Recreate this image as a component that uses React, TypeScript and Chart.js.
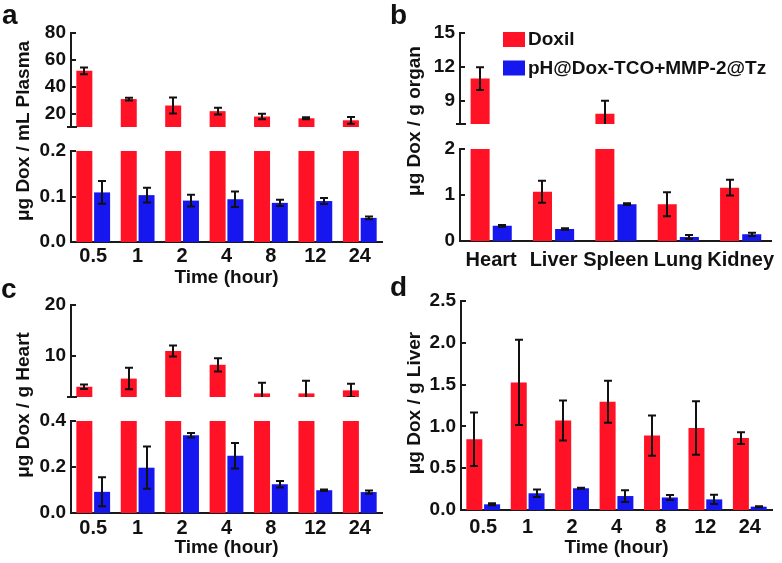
import React, { useEffect, useRef } from 'react';
import { Chart, registerables } from 'chart.js';
Chart.register(...registerables);

const FONT = '"Liberation Sans", Arial, Helvetica, sans-serif';
const RED = 'rgb(255,18,38)';
const BLUE = 'rgb(22,22,238)';
const INK = '#111';
const SERIES = ['Doxil', 'pH@Dox-TCO+MMP-2@Tz'];

// categories
const timeLabels = ['0.5', '1', '2', '4', '8', '12', '24'];
const organLabels = ['Heart', 'Liver', 'Spleen', 'Lung', 'Kidney'];

// (a) plasma
const plasmaDoxil = [51.8, 30.8, 26, 21.8, 17.8, 16.5, 15];
const plasmaDoxilErr = [2.5, 1, 6, 2.5, 2, 0.8, 2.5];
const plasmaPH = [0.109, 0.103, 0.091, 0.094, 0.086, 0.09, 0.053];
const plasmaPHErr = [0.025, 0.016, 0.013, 0.017, 0.007, 0.0065, 0.003];

// (b) organs
const organDoxil = [11.0, 1.07, 7.9, 0.8, 1.16];
const organDoxilErr = [1.0, 0.24, 1.15, 0.26, 0.17];
const organPH = [0.33, 0.26, 0.8, 0.087, 0.145];
const organPHErr = [0.02, 0.015, 0.02, 0.045, 0.035];

// (c) heart
const heartDoxil = [4.0, 5.6, 11.0, 8.3, 2.7, 2.7, 3.3];
const heartDoxilErr = [0.45, 2.1, 1.1, 1.3, 2.1, 2.5, 1.3];
const heartPH = [0.092, 0.197, 0.338, 0.249, 0.125, 0.099, 0.091];
const heartPHErr = [0.063, 0.092, 0.01, 0.055, 0.014, 0.003, 0.007];

// (d) liver
const liverDoxil = [0.845, 1.526, 1.07, 1.295, 0.89, 0.98, 0.86];
const liverDoxilErr = [0.32, 0.51, 0.24, 0.25, 0.24, 0.32, 0.07];
const liverPH = [0.068, 0.2, 0.26, 0.167, 0.15, 0.127, 0.04];
const liverPHErr = [0.012, 0.045, 0.005, 0.07, 0.03, 0.054, 0.006];

// tick labels
const aTopTicks = [20, 40, 60, 80];
const aBotTicks = [0, 0.1, 0.2];
const bTopTicks = [9, 12, 15];
const bBotTicks = [0, 1, 2];
const cTopTicks = [10, 20];
const cBotTicks = [0, 0.2, 0.4];
const dTicks = [0, 0.5, 1, 1.5, 2, 2.5];

const errorBars = {
  id: 'errorBars',
  afterDatasetsDraw(chart: any) {
    const { ctx, chartArea: a } = chart;
    const ys = chart.scales.y;
    ctx.save();
    ctx.beginPath();
    ctx.rect(a.left, a.top - 1, a.right - a.left, a.bottom - a.top + 1);
    ctx.clip();
    ctx.strokeStyle = INK;
    ctx.lineWidth = 2;
    chart.data.datasets.forEach((ds: any, di: number) => {
      const meta = chart.getDatasetMeta(di);
      meta.data.forEach((bar: any, i: number) => {
        const v = ds.data[i];
        const e = ds.errors[i];
        // an error bar belongs to the panel where the bar's top is visible
        if (v > ys.max || v < ys.min) return;
        const yT = ys.getPixelForValue(v + e);
        const yB = ys.getPixelForValue(v - e);
        const x = Math.round(bar.x);
        ctx.beginPath();
        ctx.moveTo(x, yT);
        ctx.lineTo(x, yB);
        ctx.moveTo(x - 4, yT);
        ctx.lineTo(x + 4, yT);
        ctx.moveTo(x - 4, yB);
        ctx.lineTo(x + 4, yB);
        ctx.stroke();
      });
    });
    ctx.restore();
  },
};

const axisTicks = {
  id: 'axisTicks',
  afterDraw(chart: any, _args: any, opts: any) {
    const { ctx, chartArea: a } = chart;
    const ys = chart.scales.y;
    ctx.save();
    ctx.strokeStyle = '#1a1a1a';
    ctx.lineWidth = 2;
    ys.ticks.forEach((t: any) => {
      const py = Math.round(ys.getPixelForValue(t.value));
      ctx.beginPath();
      ctx.moveTo(a.left, py);
      ctx.lineTo(a.left + 5, py);
      ctx.stroke();
    });
    if (opts && opts.breakBottom) {
      const py = Math.round(a.bottom);
      ctx.beginPath();
      ctx.moveTo(a.left - 4, py);
      ctx.lineTo(a.left + 6, py);
      ctx.stroke();
    }
    ctx.restore();
  },
};

const boxLegend = {
  id: 'boxLegend',
  afterDraw(chart: any, _args: any, opts: any) {
    if (!opts || !opts.show) return;
    const { ctx, chartArea: a } = chart;
    ctx.save();
    chart.data.datasets.forEach((ds: any, i: number) => {
      const bx = a.left + opts.dx;
      const by = a.top + opts.dy + i * opts.gap;
      ctx.fillStyle = ds.backgroundColor;
      ctx.fillRect(bx, by, 22, 15);
      ctx.fillStyle = INK;
      ctx.font = `bold 19px ${FONT}`;
      ctx.textBaseline = 'middle';
      ctx.textAlign = 'left';
      ctx.fillText(ds.label, bx + 25, by + 8);
    });
    ctx.restore();
  },
};

type SubProps = {
  labels: string[];
  red: number[];
  redErr: number[];
  blue: number[];
  blueErr: number[];
  min: number;
  max: number;
  ticks: number[];
  dec: number;
  left: number;
  top: number;
  width: number;
  height: number;
  showX?: boolean;
  xTitle?: string;
  xPad?: number;
  bottomH?: number;
  cp: number;
  bp: number;
  breakBottom?: boolean;
  legend?: boolean;
};

const YW = 62;
const PADT = 20;
const PADR = 10;

function SubChart(p: SubProps) {
  const ref = useRef<HTMLCanvasElement>(null);
  const bottomH = p.showX ? (p.bottomH ?? 46) : 20;
  const cw = YW + p.width + PADR;
  const ch = PADT + p.height + bottomH;
  useEffect(() => {
    const chart = new Chart(ref.current as HTMLCanvasElement, {
      type: 'bar',
      data: {
        labels: p.labels,
        datasets: [
          {
            label: SERIES[0],
            data: p.red,
            errors: p.redErr,
            backgroundColor: RED,
            borderWidth: 0,
            clip: 0,
            categoryPercentage: p.cp,
            barPercentage: p.bp,
          } as any,
          {
            label: SERIES[1],
            data: p.blue,
            errors: p.blueErr,
            backgroundColor: BLUE,
            borderWidth: 0,
            clip: 0,
            categoryPercentage: p.cp,
            barPercentage: p.bp,
          } as any,
        ],
      },
      options: {
        responsive: false,
        animation: false,
        layout: { padding: { left: 0, top: PADT, right: PADR, bottom: p.showX ? 0 : bottomH } },
        plugins: {
          legend: { display: false },
          tooltip: { enabled: false },
          axisTicks: { breakBottom: !!p.breakBottom },
          boxLegend: { show: !!p.legend, dx: 43, dy: -1, gap: 28.5 },
        } as any,
        scales: {
          x: {
            type: 'category',
            display: !!p.showX,
            offset: true,
            grid: { display: false, drawTicks: false },
            border: { display: true, color: '#1a1a1a', width: 2 },
            ticks: {
              color: INK,
              font: { family: FONT, size: 20, weight: 'bold' },
              padding: p.xPad ?? 2,
              maxRotation: 0,
              autoSkip: false,
            },
            title: {
              display: !!p.xTitle,
              text: p.xTitle || '',
              color: INK,
              font: { family: FONT, size: 19, weight: 'bold' },
              padding: 0,
            },
            afterFit: (s: any) => {
              s.height = p.showX ? bottomH : 0;
            },
          },
          y: {
            type: 'linear',
            min: p.min,
            max: p.max,
            grid: { display: false, drawTicks: false },
            border: { display: true, color: '#1a1a1a', width: 2 },
            ticks: {
              color: INK,
              font: { family: FONT, size: 19, weight: 'bold' },
              padding: 5,
              callback: (v: any) => Number(v).toFixed(p.dec),
            },
            afterBuildTicks: (s: any) => {
              s.ticks = p.ticks.map((v) => ({ value: v }));
            },
            afterFit: (s: any) => {
              s.width = YW;
            },
          },
        } as any,
      },
      plugins: [errorBars, axisTicks, boxLegend],
    });
    return () => chart.destroy();
  }, []);
  return (
    <canvas
      ref={ref}
      width={cw}
      height={ch}
      style={{ position: 'absolute', left: p.left - YW, top: p.top - PADT, width: cw, height: ch }}
    />
  );
}

function VTitle({ text, cx, cy }: { text: string; cx: number; cy: number }) {
  return (
    <div
      style={{
        position: 'absolute',
        left: cx,
        top: cy,
        transform: 'translate(-50%, -50%) rotate(-90deg)',
        whiteSpace: 'nowrap',
        font: `bold 19px ${FONT}`,
        color: INK,
        lineHeight: 1,
      }}
    >
      {text}
    </div>
  );
}

function Letter({ text, x, y }: { text: string; x: number; y: number }) {
  return (
    <div
      style={{
        position: 'absolute',
        left: x,
        top: y,
        font: `bold 28px ${FONT}`,
        lineHeight: 1,
        color: INK,
      }}
    >
      {text}
    </div>
  );
}

export default function App() {
  const tp = { cp: 0.8, bp: 0.9 };
  const op = { cp: 0.71, bp: 0.86 };
  return (
    <div style={{ position: 'absolute', left: 0, top: 0, width: 782, height: 563, background: '#fff', overflow: 'hidden' }}>
      {/* a */}
      <SubChart labels={timeLabels} red={plasmaDoxil} redErr={plasmaDoxilErr} blue={plasmaPH} blueErr={plasmaPHErr}
        min={10} max={80} ticks={aTopTicks} dec={0} left={71} top={33} width={311} height={94} breakBottom {...tp} />
      <SubChart labels={timeLabels} red={plasmaDoxil} redErr={plasmaDoxilErr} blue={plasmaPH} blueErr={plasmaPHErr}
        min={0} max={0.2} ticks={aBotTicks} dec={1} left={71} top={151} width={311} height={91} showX xTitle="Time (hour)" xPad={2} bottomH={47} {...tp} />
      {/* b */}
      <SubChart labels={organLabels} red={organDoxil} redErr={organDoxilErr} blue={organPH} blueErr={organPHErr}
        min={7} max={15} ticks={bTopTicks} dec={0} left={460} top={33} width={312} height={91} breakBottom legend {...op} />
      <SubChart labels={organLabels} red={organDoxil} redErr={organDoxilErr} blue={organPH} blueErr={organPHErr}
        min={0} max={2} ticks={bBotTicks} dec={0} left={460} top={149} width={312} height={92} showX xPad={7} bottomH={38} {...op} />
      {/* c */}
      <SubChart labels={timeLabels} red={heartDoxil} redErr={heartDoxilErr} blue={heartPH} blueErr={heartPHErr}
        min={2} max={20} ticks={cTopTicks} dec={0} left={71} top={305} width={311} height={92} breakBottom {...tp} />
      <SubChart labels={timeLabels} red={heartDoxil} redErr={heartDoxilErr} blue={heartPH} blueErr={heartPHErr}
        min={0} max={0.4} ticks={cBotTicks} dec={1} left={71} top={421} width={311} height={92} showX xTitle="Time (hour)" xPad={3} {...tp} />
      {/* d */}
      <SubChart labels={timeLabels} red={liverDoxil} redErr={liverDoxilErr} blue={liverPH} blueErr={liverPHErr}
        min={0} max={2.5} ticks={dTicks} dec={1} left={461} top={301} width={311} height={209} showX xTitle="Time (hour)" xPad={5} bottomH={49} {...tp} />

      <VTitle text="μg Dox / mL Plasma" cx={22} cy={131} />
      <VTitle text="μg Dox / g organ" cx={413} cy={121} />
      <VTitle text="μg Dox / g Heart" cx={22} cy={405} />
      <VTitle text="μg Dox / g Liver" cx={413} cy={403} />

      <Letter text="a" x={2} y={1} />
      <Letter text="b" x={390} y={1} />
      <Letter text="c" x={1} y={275} />
      <Letter text="d" x={390} y={273} />
    </div>
  );
}
